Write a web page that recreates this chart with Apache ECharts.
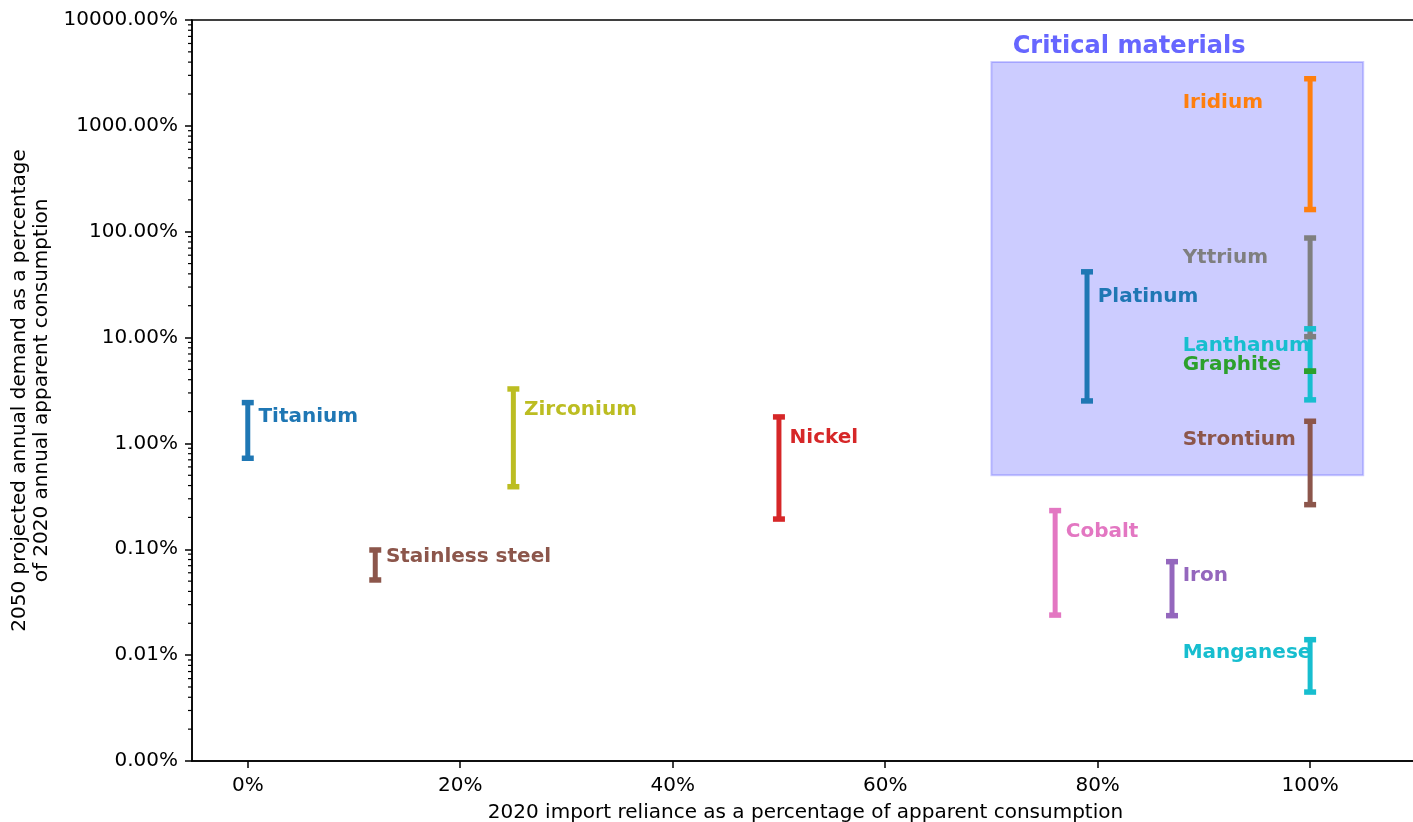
<!DOCTYPE html>
<html>
<head>
<meta charset="utf-8">
<script src="https://cdn.jsdelivr.net/npm/echarts@6/dist/echarts.min.js"></script>
<style>
  html, body { margin: 0; padding: 0; background: #ffffff; }
  #chart { width: 1413px; height: 822px; }
</style>
</head>
<body>
<div id="chart"></div>
<script>
// Materials: 2020 import reliance (%) vs. 2050 projected demand range (% of 2020 consumption)
const materials = ['Titanium', 'Stainless steel', 'Zirconium', 'Nickel', 'Cobalt', 'Iron', 'Manganese',
                   'Platinum', 'Iridium', 'Lanthanum', 'Yttrium', 'Graphite', 'Strontium'];
const importReliance = [0, 12, 25, 50, 76, 87, 100, 79, 100, 100, 100, 100, 100];
const demandLow  = [0.724, 0.0513, 0.390, 0.193, 0.0239, 0.0236, 0.00448, 2.52, 162, 2.58, 10.2, 4.81, 0.264];
const demandHigh = [2.43, 0.0985, 3.27, 1.78, 0.232, 0.0764, 0.0140, 41.8, 2787, 12.1, 87.2, 4.81, 1.62];

// Where each material's name is written (data coordinates)
const labelX = [1, 13, 26, 51, 77, 88, 88, 80, 88, 88, 88, 88, 88];
const labelY = [1.80, 0.0846, 2.08, 1.125, 0.146, 0.0562, 0.0105, 24.3, 1660, 8.40, 56.2, 5.52, 1.086];

const materialColors = ['#1f77b4', '#8c564b', '#bcbd22', '#d62728', '#e377c2', '#9467bd', '#17becf',
                        '#1f77b4', '#ff7f0e', '#17becf', '#7f7f7f', '#2ca02c', '#8c564b'];

// Highlighted "critical materials" region
const criticalTitle = 'Critical materials';
const criticalX = [70, 105];
const criticalY = [0.5, 4000];
const criticalTitleAt = [72, 5600];

// Axis ticks
const xTicks = [0, 20, 40, 60, 80, 100];
const yTicks = [0.001, 0.01, 0.1, 1, 10, 100, 1000, 10000];
const xRange = [-5.25, 110.25];

// Log minor ticks at 2..9 within each decade
const yMinorTicks = [];
for (let i = 0; i < yTicks.length - 1; i++) {
  for (let m = 2; m <= 9; m++) yMinorTicks.push(+(m * yTicks[i]).toPrecision(6));
}

const FONT = 'DejaVu Sans';
const chart = echarts.init(document.getElementById('chart'), null, { renderer: 'canvas' });

const barData = materials.map((m, i) => [importReliance[i], demandLow[i], demandHigh[i], i]);
const labelData = materials.map((m, i) => [labelX[i], labelY[i], i]);

chart.setOption({
  animation: false,
  backgroundColor: '#ffffff',
  grid: {
    left: 192, top: 20, right: -6, bottom: 61,
    containLabel: false, outerBoundsMode: 'none',
    show: true, borderColor: '#000000', borderWidth: 1.5, backgroundColor: 'transparent'
  },
  xAxis: {
    type: 'value',
    min: xRange[0], max: xRange[1],
    splitLine: { show: false },
    axisLine: { show: true, onZero: false, lineStyle: { color: '#000', width: 1.5 } },
    axisTick: { show: true, customValues: xTicks, length: 7, lineStyle: { color: '#000', width: 1.5 } },
    axisLabel: {
      customValues: xTicks, margin: 15, color: '#000', fontFamily: FONT, fontSize: 20,
      formatter: v => v + '%'
    },
    name: '2020 import reliance as a percentage of apparent consumption',
    nameLocation: 'middle', nameGap: 42,
    nameTextStyle: { color: '#000', fontFamily: FONT, fontSize: 20 }
  },
  yAxis: {
    type: 'log', logBase: 10,
    min: yTicks[0], max: yTicks[yTicks.length - 1],
    splitLine: { show: false },
    axisLine: { show: true, onZero: false, lineStyle: { color: '#000', width: 1.5 } },
    axisTick: { show: true, customValues: yTicks, length: 7, lineStyle: { color: '#000', width: 1.5 } },
    axisLabel: {
      customValues: yTicks, margin: 14, color: '#000', fontFamily: FONT, fontSize: 20,
      formatter: v => Number(v).toFixed(2) + '%'
    },
    name: '2050 projected annual demand as a percentage\nof 2020 annual apparent consumption',
    nameLocation: 'middle', nameRotate: 90, nameGap: 139,
    nameTextStyle: { color: '#000', fontFamily: FONT, fontSize: 20, lineHeight: 22, align: 'center' }
  },
  series: [
    {
      // shaded critical-materials region and its title
      type: 'custom', z: 1, silent: true,
      data: [[criticalX[0], criticalY[0], criticalX[1], criticalY[1]]],
      encode: { x: [0, 2], y: [1, 3] },
      renderItem: (params, api) => {
        const p0 = api.coord([api.value(0), api.value(3)]);
        const p1 = api.coord([api.value(2), api.value(1)]);
        const t = api.coord(criticalTitleAt);
        return {
          type: 'group',
          children: [
            {
              type: 'rect',
              shape: { x: p0[0], y: p0[1], width: p1[0] - p0[0], height: p1[1] - p0[1] },
              style: { fill: 'rgba(0,0,255,0.2)', stroke: 'rgba(0,0,255,0.2)', lineWidth: 2 }
            },
            {
              type: 'text', x: t[0], y: t[1],
              style: {
                text: criticalTitle, fill: '#6666ff', fontFamily: FONT, fontWeight: 'bold',
                fontSize: 24.1, align: 'left', verticalAlign: 'middle'
              }
            }
          ]
        };
      }
    },
    {
      // material names
      type: 'custom', z: 2, silent: true,
      data: labelData,
      encode: { x: 0, y: 1 },
      renderItem: (params, api) => {
        const i = api.value(2);
        const p = api.coord([api.value(0), api.value(1)]);
        return {
          type: 'text', x: p[0], y: p[1],
          style: {
            text: materials[i], fill: materialColors[i], fontFamily: FONT, fontWeight: 'bold',
            fontSize: 20, align: 'left', verticalAlign: 'middle'
          }
        };
      }
    },
    {
      // vertical range lines
      type: 'custom', z: 3, silent: true,
      data: barData,
      encode: { x: 0, y: [1, 2] },
      renderItem: (params, api) => {
        const i = api.value(3);
        const lo = api.coord([api.value(0), api.value(1)]);
        const hi = api.coord([api.value(0), api.value(2)]);
        return {
          type: 'line',
          shape: { x1: lo[0], y1: lo[1], x2: hi[0], y2: hi[1] },
          style: { stroke: materialColors[i], lineWidth: 5, lineCap: 'butt' }
        };
      }
    },
    {
      // caps at both ends of each range
      type: 'custom', z: 4, silent: true,
      data: barData,
      encode: { x: 0, y: [1, 2] },
      renderItem: (params, api) => {
        const i = api.value(3);
        const lo = api.coord([api.value(0), api.value(1)]);
        const hi = api.coord([api.value(0), api.value(2)]);
        const capW = 12, capH = 5.5;
        const cap = p => ({
          type: 'rect',
          shape: { x: p[0] - capW / 2, y: p[1] - capH / 2, width: capW, height: capH },
          style: { fill: materialColors[i] }
        });
        return { type: 'group', children: [cap(lo), cap(hi)] };
      }
    },
    {
      // log minor ticks on the y axis
      type: 'custom', z: 5, silent: true, clip: false,
      data: yMinorTicks.map(v => [xRange[0], v]),
      encode: { x: 0, y: 1 },
      renderItem: (params, api) => {
        const p = api.coord([api.value(0), api.value(1)]);
        const x0 = params.coordSys.x;
        return {
          type: 'line',
          shape: { x1: x0 - 4, y1: p[1], x2: x0, y2: p[1] },
          style: { stroke: '#000', lineWidth: 1.2 }
        };
      }
    }
  ]
});
</script>
</body>
</html>
